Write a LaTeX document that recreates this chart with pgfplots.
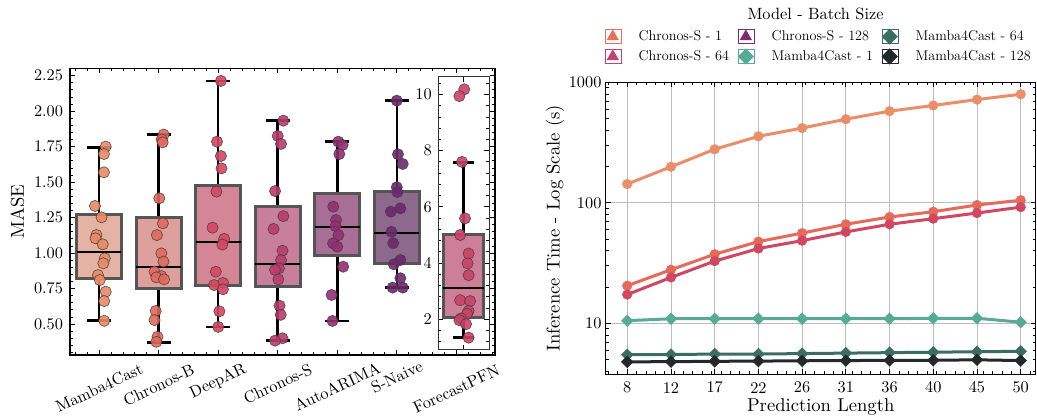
\documentclass[border=0pt]{standalone}
\usepackage{pgfplots}
\pgfplotsset{compat=1.18}
\usepgfplotslibrary{statistics}

\definecolor{bx1}{HTML}{E5B3A1}
\definecolor{bx2}{HTML}{DDA09D}
\definecolor{bx3}{HTML}{D48596}
\definecolor{bx4}{HTML}{C8809A}
\definecolor{bx5}{HTML}{A86E96}
\definecolor{bx6}{HTML}{8D6A8D}
\definecolor{bx7}{HTML}{CD7E98}
\definecolor{p1}{HTML}{EA8964}
\definecolor{p2}{HTML}{E4685B}
\definecolor{p3}{HTML}{D6465F}
\definecolor{p4}{HTML}{BC3B6B}
\definecolor{p5}{HTML}{952D72}
\definecolor{p6}{HTML}{6E266D}
\definecolor{p7}{HTML}{CC4166}
\definecolor{boxedge}{HTML}{555555}
\definecolor{c1}{HTML}{EB8E68}
\definecolor{c64}{HTML}{E6695A}
\definecolor{c128}{HTML}{D24760}
\definecolor{m1}{HTML}{55AB95}
\definecolor{m64}{HTML}{3B6E62}
\definecolor{m128}{HTML}{232828}
\definecolor{lc1}{HTML}{E87158}
\definecolor{lc64}{HTML}{C4426A}
\definecolor{lc128}{HTML}{7D2A73}
\definecolor{gridc}{HTML}{BDBDBD}

% shift a rotated (25 deg) label straight down by #1 pt (negative = up), keeping its box
\newcommand{\lbl}[2]{\raisebox{-0.906\dimexpr#1pt\relax}[\height][\depth]{\hspace*{-0.423\dimexpr#1pt\relax}#2\hspace*{0.423\dimexpr#1pt\relax}}}
% 10-pt design size Latin Modern, scaled up by the nodes
\newcommand{\fbase}{\fontsize{10.9}{13}\selectfont}
\newcommand{\fleg}{\fontsize{14.2}{17}\selectfont}

\pgfplotsset{
  common/.style={scale only axis, anchor=south west, tick align=inside,
    major tick length=5pt, minor tick length=2.8pt,
    tick style={black, line width=0.8pt},
    axis line style={line width=1.1pt},
    /pgf/number format/assume math mode=true,
    tick label style={font=\fbase}, label style={font=\fbase}},
  bxp/.style={boxplot prepared={#1, box extend=0.75, whisker extend=0.4,
      every whisker/.style={draw=black, line width=2.5pt},
      every median/.style={draw=black, line width=2.2pt}}},
  pts/.style={only marks, mark=*, mark size=5.6pt,
      mark options={fill=#1, fill opacity=0.9, draw=black!75, draw opacity=0.8, line width=0.7pt}},
  legimg/.style={only marks, legend image code/.code={\path (-8pt,-7pt) rectangle (8pt,7pt); \draw[##1] plot coordinates {(0pt,0pt)};}},
}

\begin{document}
\begin{tikzpicture}
\useasboundingbox (0,0) rectangle (1037pt,417pt);

% ---------------- left main axis ----------------
\begin{axis}[common, at={(70pt,62pt)}, width=425pt, height=286.7pt,
  xmin=-0.49, xmax=6.65, ymin=0.282, ymax=2.302,
  xtick={0,1,2,3,4,5,6},
  xticklabels={\lbl{2}{Mamba4Cast},\lbl{0}{Chronos-B},\lbl{-2.3}{DeepAR},\lbl{-0.7}{Chronos-S},\lbl{1.3}{AutoARIMA},\lbl{-5.4}{S-Naive},\lbl{2.7}{ForecastPFN}},
  xticklabel style={yshift=-30pt, rotate=25, scale=1.495, anchor=center},
  minor xtick={-0.4,-0.2,...,6.6},
  ytick={0.5,0.75,...,2.25},
  yticklabels={0.50,0.75,1.00,1.25,1.50,1.75,2.00,2.25},
  minor ytick={0.3,0.35,...,2.3},
  yticklabel style={anchor=east, inner sep=0pt, xshift=-6.7pt, scale=1.495},
  ylabel={MASE}, ylabel style={at={(axis description cs:-0.1235,0.5)}, anchor=center, scale=1.706},
  boxplot/draw direction=y]

\addplot[bxp={draw position=0, median=1.01, lower quartile=0.822, upper quartile=1.273, lower whisker=0.526, upper whisker=1.745, every box/.style={draw=boxedge, line width=3pt, fill=bx1}}] coordinates {};
\addplot[bxp={draw position=1, median=0.904, lower quartile=0.752, upper quartile=1.25, lower whisker=0.371, upper whisker=1.834, every box/.style={draw=boxedge, line width=3pt, fill=bx2}}] coordinates {};
\addplot[bxp={draw position=2, median=1.08, lower quartile=0.77, upper quartile=1.473, lower whisker=0.481, upper whisker=2.213, every box/.style={draw=boxedge, line width=3pt, fill=bx3}}] coordinates {};
\addplot[bxp={draw position=3, median=0.921, lower quartile=0.763, upper quartile=1.327, lower whisker=0.383, upper whisker=1.933, every box/.style={draw=boxedge, line width=3pt, fill=bx4}}] coordinates {};
\addplot[bxp={draw position=4, median=1.186, lower quartile=0.982, upper quartile=1.421, lower whisker=0.522, upper whisker=1.785, every box/.style={draw=boxedge, line width=3pt, fill=bx5}}] coordinates {};
\addplot[bxp={draw position=5, median=1.139, lower quartile=0.928, upper quartile=1.437, lower whisker=0.757, upper whisker=2.074, every box/.style={draw=boxedge, line width=3pt, fill=bx6}}] coordinates {};

\addplot[pts=p1] table {
x y
0.11 1.75
0.08 1.698
0.08 1.569
-0.07 1.332
0.04 1.252
-0.045 1.127
-0.06 1.104
0.06 1.062
0.095 0.963
0.07 0.928
-0.02 0.845
0.01 0.81
0.11 0.728
0.085 0.662
0.085 0.523
};
\addplot[pts=p2] table {
x y
1.084 1.835
1.05 1.80
1.067 1.78
1.01 1.386
1.07 1.21
0.97 1.127
1.045 0.998
1.08 0.94
0.93 0.869
1.045 0.838
0.96 0.829
1.09 0.815
0.95 0.592
0.93 0.528
0.98 0.41
0.96 0.375
};
\addplot[pts=p3] table {
x y
2.045 2.213
1.98 1.785
2.045 1.684
2.055 1.597
1.97 1.433
1.905 1.179
2.1 1.10
2.07 1.06
1.96 0.869
2.08 0.79
1.93 0.775
2.08 0.745
2.02 0.59
2.0 0.48
};
\addplot[pts=p4] table {
x y
3.094 1.933
3.0 1.825
3.055 1.769
2.955 1.437
3.095 1.26
2.93 1.17
3.08 1.017
3.055 0.95
3.02 0.893
2.955 0.881
3.01 0.815
3.03 0.629
3.05 0.565
3.08 0.40
2.955 0.383
};
\addplot[pts=p5] table {
x y
4.017 1.785
4.09 1.762
4.034 1.698
3.933 1.327
3.98 1.233
3.97 1.19
4.02 1.127
3.93 1.068
4.0 1.045
4.1 0.904
3.905 0.705
3.92 0.522
};
\addplot[pts=p6] table {
x y
5.0 2.074
5.02 1.696
5.1 1.628
5.0 1.464
5.01 1.43
4.9 1.292
5.06 1.315
4.91 1.15
4.94 1.07
5.06 0.951
4.95 0.921
5.06 0.823
4.93 0.757
5.1 0.757
};
\end{axis}

% ---------------- inset ForecastPFN ----------------
\begin{axis}[common, at={(438pt,67pt)}, width=51pt, height=273.3pt,
  xmin=-0.5, xmax=0.5, ymin=0.91, ymax=10.63,
  xtick={0}, xticklabels={},
  ytick={2,4,6,8,10}, yticklabels={2,4,6,8,10},
  minor ytick={1.2,1.6,...,10.4},
  yticklabel style={anchor=east, inner sep=0pt, xshift=-6pt, scale=1.495},
  axis background/.style={fill=white},
  axis line style={line width=1pt, draw=black!80},
  boxplot/draw direction=y]
\addplot[boxplot prepared={draw position=0, median=3.12, lower quartile=2.05, upper quartile=5.03, lower whisker=1.35, upper whisker=7.58, box extend=0.8, whisker extend=0.4,
  every box/.style={draw=boxedge, line width=3pt, fill=bx7},
  every whisker/.style={draw=black, line width=2.5pt},
  every median/.style={draw=black, line width=2.2pt}}] coordinates {};
\addplot[pts=p7] table {
x y
0.014 10.18
-0.08 9.94
-0.03 7.6
0.03 5.59
-0.065 5.0
0.1 4.34
0.08 3.99
0.1 3.57
-0.065 2.68
0.13 2.65
0.1 2.3
0.07 2.2
-0.05 2.03
-0.08 1.97
0.05 1.83
0.1 1.35
};
\end{axis}

% ---------------- right axis ----------------
\begin{axis}[common, at={(605.7pt,42.7pt)}, width=430pt, height=292pt,
  ymode=log, xmin=5.7, xmax=51.6, ymin=3.77, ymax=1000,
  xtick={8,12.667,17.333,22,26.667,31.333,36,40.667,45.333,50},
  xticklabels={8,12,17,22,26,31,36,40,45,50},
  xticklabel style={anchor=center, yshift=-13.3pt, scale=1.495},
  minor xtick={6,7,...,51},
  ytick={10,100,1000}, yticklabels={10,100,1000},
  minor ytick={4,5,6,7,8,9,20,30,40,50,60,70,80,90,200,300,400,500,600,700,800,900},
  yticklabel style={anchor=east, inner sep=0pt, xshift=-4pt, scale=1.495},
  grid=major, grid style={line width=0.9pt, color=gridc},
  xlabel={Prediction Length}, xlabel style={at={(axis description cs:0.5,-0.129)}, anchor=base, scale=1.706},
  ylabel={Inference Time - Log Scale (s)}, ylabel style={at={(axis description cs:-0.118,0.5)}, anchor=center, scale=1.706},
  legend columns=3, legend cell align=left,
  legend style={at={(0.493,1.1837)}, anchor=north, draw=none, fill=none, font=\fleg,
    inner sep=0pt, nodes={inner sep=0pt}, row sep=4.3pt,
    /tikz/every odd column/.append style={column sep=17.7pt},
    /tikz/every even column/.append style={column sep=8.5pt}}]

\addplot[color=c1, line width=3pt, mark=*, mark size=4.8pt, mark options={line width=0.5pt}, forget plot] coordinates {
(8,143) (12.667,199) (17.333,278) (22,356) (26.667,417) (31.333,494) (36,576) (40.667,642) (45.333,719) (50,796)};
\addplot[color=c64, line width=3pt, mark=*, mark size=4.8pt, mark options={line width=0.5pt}, forget plot] coordinates {
(8,20.5) (12.667,27.8) (17.333,37.4) (22,47.6) (26.667,56) (31.333,66.3) (36,76.2) (40.667,84.3) (45.333,95.8) (50,105)};
\addplot[color=c128, line width=3pt, mark=*, mark size=4.8pt, mark options={line width=0.5pt}, forget plot] coordinates {
(8,17.3) (12.667,24) (17.333,32.8) (22,41.7) (26.667,48.5) (31.333,57.3) (36,66.3) (40.667,73.8) (45.333,82.2) (50,92)};
\addplot[color=m1, line width=3pt, mark=square*, mark size=4.1pt, mark options={rotate=45, line width=0.5pt}, forget plot] coordinates {
(8,10.5) (12.667,10.9) (17.333,10.9) (22,10.9) (26.667,10.9) (31.333,10.9) (36,10.9) (40.667,11.0) (45.333,11.0) (50,10.2)};
\addplot[color=m64, line width=3pt, mark=square*, mark size=4.1pt, mark options={rotate=45, line width=0.5pt}, forget plot] coordinates {
(8,5.48) (12.667,5.5) (17.333,5.55) (22,5.55) (26.667,5.6) (31.333,5.65) (36,5.7) (40.667,5.75) (45.333,5.8) (50,5.85)};
\addplot[color=m128, line width=3pt, mark=square*, mark size=4.1pt, mark options={rotate=45, line width=0.5pt}, forget plot] coordinates {
(8,4.78) (12.667,4.8) (17.333,4.83) (22,4.85) (26.667,4.88) (31.333,4.9) (36,4.92) (40.667,4.93) (45.333,4.97) (50,4.9)};

\addlegendimage{legimg, mark=triangle*, mark size=6.7pt, color=lc1}
\addlegendentry{Chronos-S - 1}
\addlegendimage{legimg, mark=triangle*, mark size=6.7pt, color=lc128}
\addlegendentry{Chronos-S - 128}
\addlegendimage{legimg, mark=square*, mark size=5.5pt, mark options={rotate=45}, color=m64}
\addlegendentry{Mamba4Cast - 64}
\addlegendimage{legimg, mark=triangle*, mark size=6.7pt, color=lc64}
\addlegendentry{Chronos-S - 64}
\addlegendimage{legimg, mark=square*, mark size=5.5pt, mark options={rotate=45}, color=m1}
\addlegendentry{Mamba4Cast - 1}
\addlegendimage{legimg, mark=square*, mark size=5.5pt, mark options={rotate=45}, color=m128}
\addlegendentry{Mamba4Cast - 128}
\end{axis}

\node[font=\fbase, scale=1.495, anchor=base] at (815.5pt,397.7pt) {Model - Batch Size};
\end{tikzpicture}
\end{document}
